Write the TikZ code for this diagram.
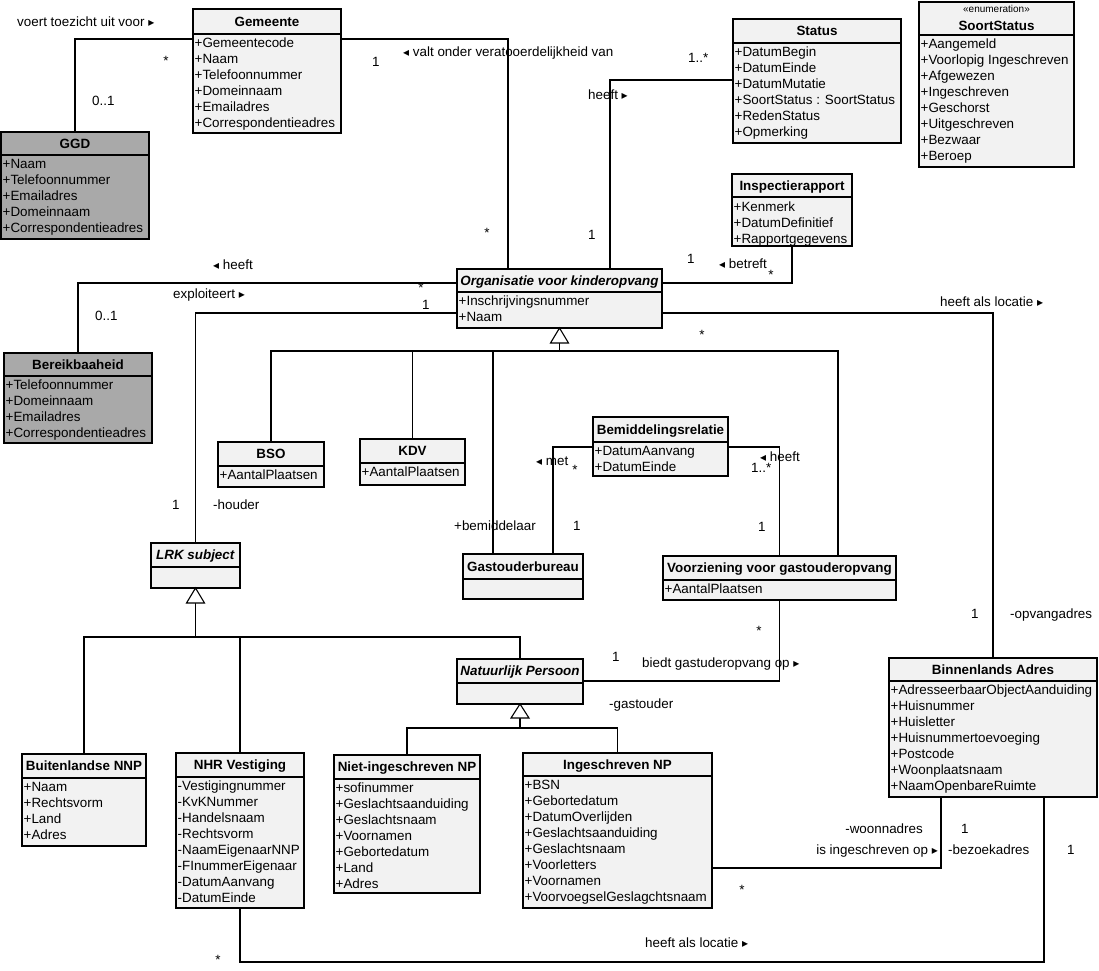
\documentclass[tikz,border=0pt]{standalone}
\usepackage{fontspec}
\setmainfont{Liberation Sans}
\newfontfamily\symfont{DejaVu Sans}
\usetikzlibrary{calc}
\definecolor{boxlight}{HTML}{F2F2F2}
\definecolor{boxdark}{HTML}{A9A9A9}
\newcommand\triR{{\symfont\fontsize{12}{12}\selectfont ▸}}
\newcommand\triL{{\symfont\fontsize{12}{12}\selectfont ◂}}
\newcommand\umlfont{\fontsize{13.4}{16}\selectfont}
\tikzset{
  classbox/.style={draw=black, line width=1.2pt, inner sep=0pt, outer sep=0pt},
  classline/.style={line width=1.2pt},
  titletext/.style={font=\bfseries\umlfont, inner sep=0pt, anchor=base},
  attr/.style={font=\umlfont, inner sep=0pt, anchor=base west},
  lbl/.style={font=\umlfont, inner sep=0pt, anchor=base west},
  star/.style={font=\umlfont, inner sep=0pt, anchor=base},
  conn/.style={line width=1.1pt},
  gen/.style={line width=1.1pt, fill=white},
}
% #1 name, #2 x1, #3 y1, #4 x2, #5 y2, #6 y of title line, #7 fill, #8 title
\newcommand\umlclass[8]{%
  \node[classbox, fill=#7, minimum width={#4-#2}, minimum height={#5-#3}, anchor=north west] (#1) at (#2,#3) {};
  \draw[classline] (#2,#6) -- (#4,#6);
  \node[titletext] (#1-title) at ({(#2+#4)/2},{(#3+#6)/2+4.8}) {#8};
}
% #1 name, #2 x1, #3 first baseline, #4 rows
\newcommand\umlrows[4]{%
  \foreach \t [count=\i from 0] in {#4} {\node[attr] (#1-r\i) at ({#2+1.5},{#3+16*\i}) {\t};}
}
\begin{document}
\begin{tikzpicture}[x=1pt,y=-1pt]
\useasboundingbox (0,0) rectangle (1099,970);

\umlclass{gemeente}{193}{9}{341}{133}{34}{boxlight}{Gemeente}
\umlclass{ggd}{1}{132}{149}{239}{155}{boxdark}{GGD}
\umlclass{status}{733}{19}{901}{143}{43}{boxlight}{Status}
\umlclass{soort}{919}{2}{1074}{167}{35}{boxlight}{}
\umlclass{inspectie}{732}{174}{852}{246}{197}{boxlight}{Inspectierapport}
\umlclass{organisatie}{457}{269}{662}{328}{292}{boxlight}{\textit{Organisatie voor kinderopvang}}
\umlclass{bereik}{4}{353}{152}{443}{376}{boxdark}{Bereikbaaheid}
\umlclass{bso}{218}{442}{324}{487}{466}{boxlight}{BSO}
\umlclass{kdv}{360}{439}{465}{485}{463}{boxlight}{KDV}
\umlclass{lrk}{151}{543}{240}{588}{567}{boxlight}{\textit{LRK subject}}
\umlclass{gob}{463}{554}{583}{599}{579}{boxlight}{Gastouderbureau}
\umlclass{bemiddeling}{593}{417}{728}{476}{442}{boxlight}{Bemiddelingsrelatie}
\umlclass{voorziening}{663}{556}{896}{600}{580}{boxlight}{Voorziening voor gastouderopvang}
\umlclass{np}{457}{659}{583}{704}{683}{boxlight}{\textit{Natuurlijk Persoon}}
\umlclass{buitenlandse}{22}{754}{146}{846}{778}{boxlight}{Buitenlandse NNP}
\umlclass{nhr}{176}{753}{304}{908}{777}{boxlight}{NHR Vestiging}
\umlclass{niet}{334}{755}{480}{893}{779}{boxlight}{Niet-ingeschreven NP}
\umlclass{ingeschreven}{523}{753}{712}{908}{776}{boxlight}{Ingeschreven NP}
\umlclass{adres}{889}{658}{1097}{797}{681}{boxlight}{Binnenlands Adres}

% enumeration header
\node[font=\fontsize{10}{12}\selectfont, inner sep=0pt, anchor=base] (soort-st) at (996.5,12) {«enumeration»};
\node[titletext] (soort-name) at (996.5,30.8) {SoortStatus};

% attributes
\umlrows{gemeente}{193}{47.5}{+Gemeentecode,+Naam,+Telefoonnummer,+Domeinnaam,+Emailadres,+Correspondentieadres}
\umlrows{ggd}{1}{168.5}{+Naam,+Telefoonnummer,+Emailadres,+Domeinnaam,+Correspondentieadres}
\umlrows{status}{733}{56.5}{+DatumBegin,+DatumEinde,+DatumMutatie,+SoortStatus : SoortStatus,+RedenStatus,+Opmerking}
\umlrows{soort}{919}{48.5}{+Aangemeld,+Voorlopig Ingeschreven,+Afgewezen,+Ingeschreven,+Geschorst,+Uitgeschreven,+Bezwaar,+Beroep}
\umlrows{inspectie}{732}{211}{+Kenmerk,+DatumDefinitief,+Rapportgegevens}
\umlrows{organisatie}{457}{305.5}{+Inschrijvingsnummer,+Naam}
\umlrows{bereik}{4}{389.5}{+Telefoonnummer,+Domeinnaam,+Emailadres,+Correspondentieadres}
\umlrows{bso}{218}{479.5}{+AantalPlaatsen}
\umlrows{kdv}{360}{476.5}{+AantalPlaatsen}
\umlrows{bemiddeling}{593}{455.5}{+DatumAanvang,+DatumEinde}
\umlrows{voorziening}{663}{593.5}{+AantalPlaatsen}
\umlrows{buitenlandse}{22}{791.5}{+Naam,+Rechtsvorm,+Land,+Adres}
\umlrows{nhr}{176}{790.5}{-Vestigingnummer,-KvKNummer,-Handelsnaam,-Rechtsvorm,-NaamEigenaarNNP,-FInummerEigenaar,-DatumAanvang,-DatumEinde}
\umlrows{niet}{334}{792.5}{+sofinummer,+Geslachtsaanduiding,+Geslachtsnaam,+Voornamen,+Gebortedatum,+Land,+Adres}
\umlrows{ingeschreven}{523}{789.5}{+BSN,+Gebortedatum,+DatumOverlijden,+Geslachtsaanduiding,+Geslachtsnaam,+Voorletters,+Voornamen,+VoorvoegselGeslagchtsnaam}
\umlrows{adres}{889}{694.5}{+AdresseerbaarObjectAanduiding,+Huisnummer,+Huisletter,+Huisnummertoevoeging,+Postcode,+Woonplaatsnaam,+NaamOpenbareRuimte}

% associations
\draw[conn] (ggd.north) |- (gemeente.west |- 0,39);
\draw[conn] (gemeente.east |- 0,39) -| (organisatie.north -| 508,0);
\draw[conn] (status.west |- 0,80) -| (organisatie.north -| 610,0);
\draw[conn] (inspectie.south) |- (organisatie.east |- 0,283);
\draw[conn] (bereik.north) |- (organisatie.west |- 0,283);
\draw[conn] (lrk.north) |- (organisatie.west |- 0,313);
\draw[conn] (adres.north) |- (organisatie.east |- 0,313);
\draw[conn] (bemiddeling.west |- 0,447) -| (gob.north -| 553,0);
\draw[conn] (bemiddeling.east |- 0,447) -| (voorziening.north);
\draw[conn] (voorziening.south) |- (np.east |- 0,681);
\draw[conn] (ingeschreven.east |- 0,868) -| (adres.south -| 941,0);
\coordinate (c962) at (1044,962);
\draw[conn] (nhr.south) |- (c962) -- (adres.south -| c962);

% generalizations
\coordinate (j1) at (559.5,351);
\draw[conn] ($(organisatie.south)+(0,15)$) -- (j1);
\draw[conn] (bso.north) |- (j1) -| (voorziening.north -| 838,0);
\draw[conn] (kdv.north) -- (kdv.north |- j1);
\draw[conn] (gob.north -| 493,0) -- (j1 -| 493,0);
\draw[gen] (organisatie.south) -- ++(-9,15) -- ++(18,0) -- cycle;

\coordinate (j2) at (195.5,637);
\draw[conn] ($(lrk.south)+(0,15)$) -- (j2);
\draw[conn] (buitenlandse.north) |- (j2) -| (np.north);
\draw[conn] (nhr.north) -- (nhr.north |- j2);
\draw[gen] (lrk.south) -- ++(-9,15) -- ++(18,0) -- cycle;

\coordinate (j3) at (520,728);
\draw[conn] ($(np.south)+(0,14)$) -- (j3);
\draw[conn] (niet.north) |- (j3) -| (ingeschreven.north);
\draw[gen] (np.south) -- ++(-9,14) -- ++(18,0) -- cycle;

% association labels
\node[lbl] (t1) at (17,26.5) {voert toezicht uit voor \triR};
\node[lbl] (t2) at (403,56.5) {\triL{} valt onder veratooerdelijkheid van};
\node[lbl] (t3) at (588,99.5) {heeft \triR};
\node[lbl] (t4) at (213,269.5) {\triL{} heeft};
\node[lbl] (t5) at (173,298.5) {exploiteert \triR};
\node[lbl] (t6) at (719,268.5) {\triL{} betreft};
\node[lbl] (t7) at (940,306.5) {heeft als locatie \triR};
\node[lbl] (t8) at (213,509.5) {-houder};
\node[lbl] (t9) at (536,465.5) {\triL{} met};
\node[lbl] (t10) at (454,530.5) {+bemiddelaar};
\node[lbl] (t11) at (760,461.5) {\triL{} heeft};
\node[lbl] (t12) at (642,667.5) {biedt gastuderopvang op \triR};
\node[lbl] (t13) at (609,708.5) {-gastouder};
\node[lbl] (t14) at (1010,618.5) {-opvangadres};
\node[lbl, anchor=base east] (t15) at (923,833.5) {-woonnadres};
\node[lbl, anchor=base east] (t16) at (938,854.5) {is ingeschreven op \triR};
\node[lbl] (t17) at (948,854.5) {-bezoekadres};
\node[lbl] (t18) at (645,947.5) {heeft als locatie \triR};

% multiplicities
\node[lbl] (m1) at (92,105.8) {0..1};
\node[lbl] (m2) at (372,66.8) {1};
\node[lbl] (m3) at (688,62.8) {1..*};
\node[lbl] (m4) at (588,239.8) {1};
\node[lbl] (m5) at (687,263.8) {1};
\node[lbl] (m6) at (95,320.8) {0..1};
\node[lbl] (m7) at (422,309.8) {1};
\node[lbl] (m8) at (172,509.8) {1};
\node[lbl] (m9) at (573,530.8) {1};
\node[lbl] (m10) at (751,472.8) {1..*};
\node[lbl] (m11) at (758,531.8) {1};
\node[lbl] (m12) at (612,661.8) {1};
\node[lbl] (m13) at (971,618.8) {1};
\node[lbl] (m14) at (961,833.8) {1};
\node[lbl] (m15) at (1067,854.8) {1};
\node[star] (s1) at (166,65.7) {*};
\node[star] (s2) at (487,237.7) {*};
\node[star] (s3) at (771,279.7) {*};
\node[star] (s4) at (421,292.7) {*};
\node[star] (s5) at (702,339.7) {*};
\node[star] (s6) at (575,474) {*};
\node[star] (s7) at (759,635.7) {*};
\node[star] (s8) at (742,894.7) {*};
\node[star] (s9) at (218,964.7) {*};
\end{tikzpicture}
\end{document}
